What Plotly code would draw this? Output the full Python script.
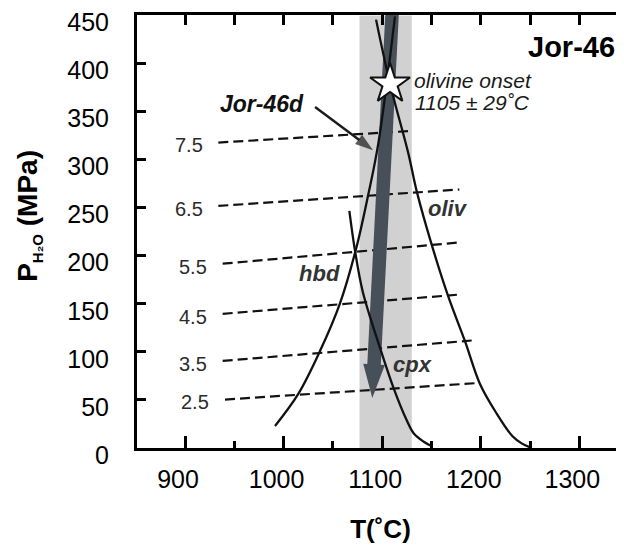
import numpy as np
import plotly.graph_objects as go

FONT = "Arial, 'Liberation Sans', sans-serif"

# ---------------- data ----------------
# H2O isopleths (wt% H2O) : start / end points (T in degC, P in MPa)
h2o_labels = ["7.5", "6.5", "5.5", "4.5", "3.5", "2.5"]
iso_T0 = [933.8, 933.8, 938.2, 938.2, 938.2, 940.6]
iso_P0 = [317.7, 251.8, 191.7, 139.6, 90.6, 50.4]
iso_T1 = [1126.5, 1178.3, 1180.7, 1180.7, 1190.8, 1197.5]
iso_P1 = [329.6, 268.9, 214.0, 159.8, 111.8, 67.6]

# olivine-in curve
oliv_T = [1093.8, 1108.0, 1126.5, 1135.0, 1150.3, 1167.1, 1184.0, 1199.2, 1216.2, 1232.0, 1241.5, 1250.0]
oliv_P = [445.6, 378.7, 306.6, 267.2, 211.3, 157.4, 111.1, 66.6, 35.7, 12.5, 4.8, 0.7]

# hornblende curve
hbd_T = [1113.0, 1096.1, 1085.9, 1073.5, 1057.2, 1036.9, 1014.9, 991.3]
hbd_P = [449.0, 316.9, 263.7, 207.1, 150.5, 100.8, 56.3, 22.9]

# clinopyroxene curve
cpx_T = [1066.7, 1072.4, 1080.3, 1097.8, 1111.3, 1124.9, 1132.1, 1142.2, 1151.0]
cpx_P = [246.7, 205.5, 162.6, 104.2, 63.1, 28.8, 15.1, 6.5, 1.5]

# olivine onset temperature band and star
band_T = [1077.0, 1130.0]
onset_T = [1108.0]
onset_P = [378.7]

# decompression path of Jor-46d (start, tip)
path_T = [1111.0, 1090.0]
path_P = [470.0, 52.0]

# pointer from the "Jor-46d" label (tail, tip)
ptr_T = [1031.9, 1090.7]
ptr_P = [354.7, 309.7]

# tick values
x_ticks = [900, 1000, 1100, 1200, 1300]
y_ticks = [0, 50, 100, 150, 200, 250, 300, 350, 400, 450]

# ---------------- figure ----------------
fig = go.Figure()

BLACK = "#111111"
DARK = "#474f59"

# band
fig.add_shape(type="rect", xref="x", yref="y", x0=band_T[0], x1=band_T[1], y0=0, y1=450,
              fillcolor="#d1d1d1", line_width=0, layer="below")

# isopleths
for i, lab in enumerate(h2o_labels):
    fig.add_trace(go.Scatter(x=[iso_T0[i], iso_T1[i]], y=[iso_P0[i], iso_P1[i]], mode="lines",
                             line=dict(color=BLACK, width=2.2, dash="10px,5px"),
                             hoverinfo="skip", showlegend=False))
    fig.add_annotation(x=iso_T0[i] - 14, y=iso_P0[i] - 3, text=lab, showarrow=False,
                       xanchor="right", yanchor="middle",
                       font=dict(family=FONT, size=20, color="#2b2b2b"))

# decompression arrow (shaft + head)
sx, sy = path_T[0], path_P[0]
tx, ty = path_T[1], path_P[1]
d = np.array([tx - sx, ty - sy])
d = d / np.linalg.norm(d)
n = np.array([-d[1], d[0]])
head_len, head_half = 35.0, 11.0
base = np.array([tx, ty]) - d * head_len
shaft_end = base + d * 3
fig.add_trace(go.Scatter(x=[sx, shaft_end[0]], y=[sy, shaft_end[1]], mode="lines",
                         line=dict(color=DARK, width=13.5), hoverinfo="skip", showlegend=False))
hl = base + n * head_half
hr = base - n * head_half
fig.add_trace(go.Scatter(x=[hl[0], tx, hr[0], hl[0]], y=[hl[1], ty, hr[1], hl[1]], mode="lines",
                         fill="toself", fillcolor=DARK, line=dict(width=0, color=DARK),
                         hoverinfo="skip", showlegend=False))

# phase curves
for T, P in [(oliv_T, oliv_P), (hbd_T, hbd_P), (cpx_T, cpx_P)]:
    fig.add_trace(go.Scatter(x=T, y=P, mode="lines", line=dict(color=BLACK, width=2.3, shape="spline"),
                             hoverinfo="skip", showlegend=False))

# pointer arrow for Jor-46d
fig.add_trace(go.Scatter(x=ptr_T, y=ptr_P, mode="lines+markers",
                         line=dict(color="#1a1a1a", width=2.4),
                         marker=dict(symbol="arrow", size=[0, 19], angleref="previous", color="#1a1a1a",
                                     line=dict(width=0)),
                         hoverinfo="skip", showlegend=False))

# star
fig.add_trace(go.Scatter(x=onset_T, y=onset_P, mode="markers",
                         marker=dict(symbol="star", size=30, color="white", line=dict(color=BLACK, width=2)),
                         hoverinfo="skip", showlegend=False, cliponaxis=False))

# invisible trace for top axis
fig.add_trace(go.Scatter(x=[900], y=[0], xaxis="x2", mode="markers", marker=dict(opacity=0),
                         hoverinfo="skip", showlegend=False))

# labels
fig.add_annotation(x=1292.3, y=417.3, text="<b>Jor-46</b>", showarrow=False,
                   font=dict(family=FONT, size=29, color="black"))
fig.add_annotation(x=1130.0, y=382.0, text="<i>olivine onset</i>", showarrow=False, xanchor="left",
                   font=dict(family=FONT, size=21, color="#1a1a1a"))
fig.add_annotation(x=1131.0, y=359.8, text="<i>1105 ± 29˚C</i>", showarrow=False, xanchor="left",
                   font=dict(family=FONT, size=21, color="#1a1a1a"))
fig.add_annotation(x=978.1, y=358.1, text="<b><i>Jor-46d</i></b>", showarrow=False,
                   font=dict(family=FONT, size=23, color="#111111"))
fig.add_annotation(x=1166.3, y=249.0, text="<b><i>oliv</i></b>", showarrow=False,
                   font=dict(family=FONT, size=22, color="#333333"))
fig.add_annotation(x=1130.3, y=86.4, text="<b><i>cpx</i></b>", showarrow=False,
                   font=dict(family=FONT, size=22, color="#333333"))
fig.add_annotation(x=1036.9, y=181.1, text="<b><i>hbd</i></b>", showarrow=False,
                   font=dict(family=FONT, size=22, color="#333333"))

xr = [851.3, 1345.3]
fig.update_layout(
    width=616, height=542,
    margin=dict(l=129, r=0, t=3, b=102),
    paper_bgcolor="white", plot_bgcolor="white",
    font=dict(family=FONT, color="black"),
    xaxis=dict(range=xr, tickvals=x_ticks, ticks="inside", ticklen=12, tickwidth=2.5, tickcolor="black",
               showline=True, linewidth=3, linecolor="black", showgrid=False, zeroline=False,
               tickfont=dict(family=FONT, size=25, color="black"), ticklabelshift=-7, ticklabelstandoff=7,
               title=dict(text="<b>T(˚C)</b>", font=dict(family=FONT, size=26, color="black"), standoff=28),
               minor=dict(tickvals=[950, 1050, 1150, 1250], ticks="inside", ticklen=7, tickwidth=2.5,
                          tickcolor="black", showgrid=False)),
    xaxis2=dict(range=xr, overlaying="x", side="top", anchor="y", tickvals=list(range(900, 1350, 50)),
                ticks="inside", ticklen=10, tickwidth=2.5, tickcolor="black", showticklabels=False,
                showline=True, linewidth=3, linecolor="black", showgrid=False, zeroline=False),
    yaxis=dict(range=[0, 450.4], tickvals=y_ticks, ticks="inside", ticklen=9, tickwidth=2.5, tickcolor="black",
               showline=True, linewidth=3, linecolor="black", showgrid=False, zeroline=False,
               ticklabeloverflow="allow",
               title=dict(text="<b>&nbsp;&nbsp;&nbsp;&nbsp;P<sub><span style='font-size:15px'>H₂O</span></sub>"
                               " (MPa)</b>",
                          font=dict(family=FONT, size=28, color="black"), standoff=22),
               tickfont=dict(family=FONT, size=25, color="black"), ticklabelshift=7, ticklabelstandoff=20),
)

fig.write_html("out.html")
